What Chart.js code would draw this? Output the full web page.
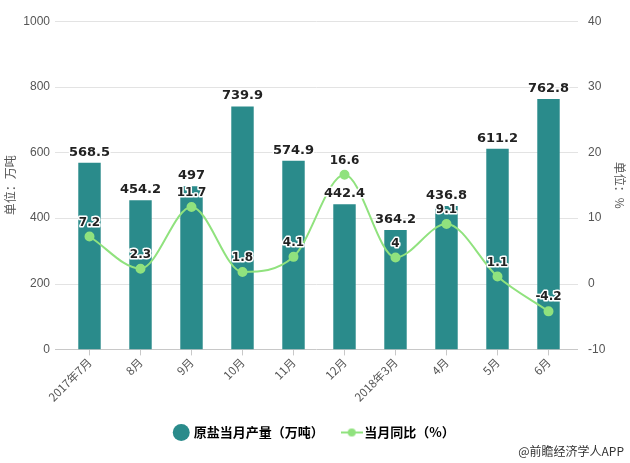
<!DOCTYPE html>
<html>
<head>
<meta charset="utf-8">
<script src="https://cdn.jsdelivr.net/npm/chart.js@4"></script>
<style>
    body { margin: 0; background: #fff; }
    #wrap { width: 630px; height: 463px; }
</style>
</head>
<body>
<div id="wrap"><canvas id="myChart"></canvas></div>
<script>
const months = ["2017年7月", "8月", "9月", "10月", "11月", "12月", "2018年3月", "4月", "5月", "6月"];
const output = [568.5, 454.2, 497, 739.9, 574.9, 442.4, 364.2, 436.8, 611.2, 762.8];
const yoy = [7.2, 2.3, 11.7, 1.8, 4.1, 16.6, 4, 9.1, 1.1, -4.2];
const leftTicks = [0, 200, 400, 600, 800, 1000];

const barColor = "#2a8b8b";
const lineColor = "#90e27e";

// legend symbol for the line series: short line with a dot
const lineIcon = document.createElement("canvas");
lineIcon.width = 22;
lineIcon.height = 12;
const ic = lineIcon.getContext("2d");
ic.strokeStyle = lineColor;
ic.lineWidth = 2;
ic.beginPath();
ic.moveTo(0, 6);
ic.lineTo(22, 6);
ic.stroke();
ic.fillStyle = lineColor;
ic.beginPath();
ic.arc(11, 6, 4, 0, Math.PI * 2);
ic.fill();

// grid lines reach a bit past the plot, like the original
const gridPlugin = {
    id: "grid",
    beforeDatasetsDraw(chart) {
        const c = chart.ctx;
        const y = chart.scales.y;
        const area = chart.chartArea;
        c.save();
        c.lineWidth = 1;
        leftTicks.forEach(v => {
            const py = Math.round(y.getPixelForValue(v)) + 0.5;
            c.strokeStyle = v === 0 ? "#c8c8c8" : "#e3e3e3";
            c.beginPath();
            c.moveTo(area.left - 9, py);
            c.lineTo(area.right + 4, py);
            c.stroke();
        });
        c.restore();
    }
};

const labelPlugin = {
    id: "labels",
    afterDatasetsDraw(chart) {
        const c = chart.ctx;
        c.save();
        c.textAlign = "center";
        c.textBaseline = "bottom";
        c.lineJoin = "round";
        c.font = "bold 13px 'DejaVu Sans'";
        chart.getDatasetMeta(0).data.forEach((bar, i) => {
            const t = String(output[i]);
            c.lineWidth = 3;
            c.strokeStyle = "#fff";
            c.strokeText(t, bar.x, bar.y - 4);
            c.fillStyle = "#222";
            c.fillText(t, bar.x, bar.y - 4);
        });
        c.font = "bold 12px 'DejaVu Sans'";
        c.textBaseline = "middle";
        chart.getDatasetMeta(1).data.forEach((pt, i) => {
            const t = String(yoy[i]);
            c.lineWidth = 3;
            c.strokeStyle = "#fff";
            c.strokeText(t, pt.x, pt.y - 14);
            c.fillStyle = "#222";
            c.fillText(t, pt.x, pt.y - 14);
        });
        c.restore();
    },
    afterDraw(chart) {
        const c = chart.ctx;
        c.save();
        c.font = "12px 'Noto Sans CJK SC'";
        c.fillStyle = "#333";
        c.textAlign = "right";
        c.textBaseline = "middle";
        c.fillText("@前瞻经济学人APP", chart.width - 6, chart.height - 12);
        c.restore();
    }
};

const ctx = document.getElementById("myChart");
new Chart(ctx, {
    type: "bar",
    data: {
        labels: months,
        datasets: [
            {
                type: "bar",
                label: "原盐当月产量（万吨）",
                data: output,
                backgroundColor: barColor,
                yAxisID: "y",
                order: 2,
                categoryPercentage: 1,
                barPercentage: 0.44
            },
            {
                type: "line",
                label: "当月同比（%）",
                data: yoy,
                borderColor: lineColor,
                backgroundColor: lineColor,
                borderWidth: 2,
                pointRadius: 4,
                tension: 0.4,
                cubicInterpolationMode: "monotone",
                yAxisID: "y1",
                order: 1
            }
        ]
    },
    options: {
        responsive: true,
        maintainAspectRatio: false,
        animation: false,
        layout: { padding: { top: 10, left: 3, right: 3, bottom: 14 } },
        plugins: {
            tooltip: { enabled: false },
            legend: {
                position: "bottom",
                labels: {
                    usePointStyle: true,
                    boxWidth: 12,
                    boxHeight: 12,
                    padding: 22,
                    color: "#333",
                    font: { family: "'Noto Sans CJK SC'", size: 13, weight: "bold" },
                    generateLabels(chart) {
                        return chart.data.datasets.map((ds, i) => ({
                            text: ds.label,
                            fillStyle: ds.backgroundColor,
                            strokeStyle: ds.backgroundColor,
                            lineWidth: 0,
                            pointStyle: i === 0 ? "circle" : lineIcon,
                            hidden: false,
                            datasetIndex: i
                        }));
                    }
                }
            }
        },
        scales: {
            x: {
                grid: { display: true, drawOnChartArea: false, offset: false, tickLength: 6, color: "#c8c8c8" },
                border: { display: false },
                afterFit(axis) {
                    // rotated labels may spill left, as in the original
                    axis.paddingLeft = 0;
                    axis.paddingRight = 0;
                },
                ticks: {
                    color: "#555",
                    font: { family: "'Noto Sans CJK SC'", size: 11.5 },
                    minRotation: 45,
                    maxRotation: 45,
                    autoSkip: false,
                    padding: 0
                }
            },
            y: {
                position: "left",
                min: 0,
                max: 1000,
                grid: { display: false, drawTicks: false, tickLength: 0 },
                border: { display: false },
                afterBuildTicks(axis) {
                    axis.ticks = leftTicks.map(v => ({ value: v }));
                },
                afterFit(axis) {
                    axis.width = 61;
                },
                ticks: {
                    color: "#555",
                    font: { family: "'Liberation Sans'", size: 12 },
                    padding: 14,
                    callback: v => String(v)
                },
                title: {
                    display: true,
                    text: "单位：万吨",
                    color: "#555",
                    font: { family: "'Noto Sans CJK SC'", size: 12 },
                    padding: { top: 0, bottom: 8 }
                }
            },
            y1: {
                position: "right",
                min: -10,
                max: 40,
                grid: { display: false, drawTicks: false, tickLength: 0 },
                border: { display: false },
                afterFit(axis) {
                    axis.width = 53;
                },
                ticks: {
                    stepSize: 10,
                    color: "#555",
                    font: { family: "'Liberation Sans'", size: 12 },
                    padding: 14,
                    callback: v => String(v)
                },
                title: {
                    display: true,
                    text: "单位：%",
                    color: "#555",
                    font: { family: "'Noto Sans CJK SC'", size: 12 },
                    padding: { top: 0, bottom: 8 }
                }
            }
        }
    },
    plugins: [gridPlugin, labelPlugin]
});
</script>
</body>
</html>
